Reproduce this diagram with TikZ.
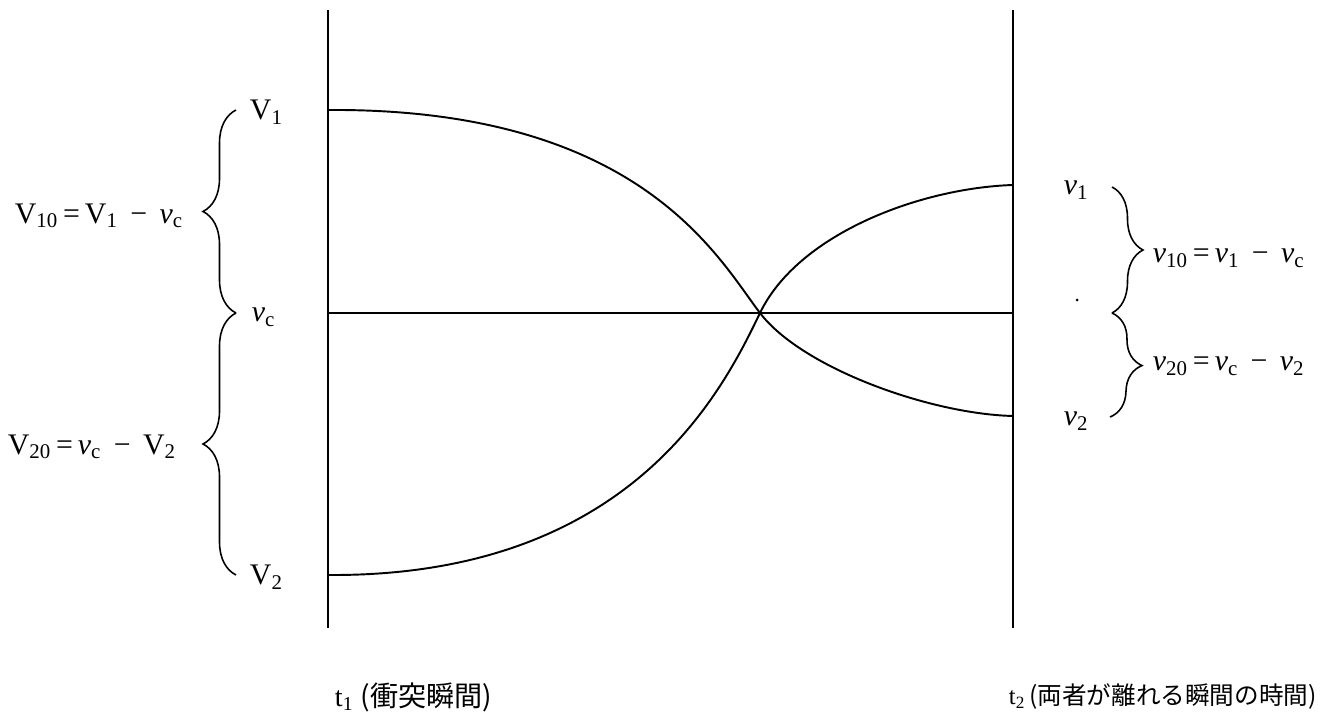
\documentclass[tikz,border=0pt]{standalone}
\usepackage{fontspec}
\setmainfont{Liberation Serif}
\newfontfamily\jpfont{Noto Sans CJK JP}
\usetikzlibrary{decorations.pathreplacing}

\begin{document}
\begin{tikzpicture}
    [x=0.02cm, y=-0.02cm, font=\fontsize{17}{19}\selectfont, line width=1.1pt,
     lbl/.style={inner sep=0pt, anchor=west},
     curlybrace/.style={decorate, decoration={brace, amplitude=#1}, line width=0.9pt},
     curlybrace/.default=0.66cm]
    \useasboundingbox (0,0) rectangle (1343,715);
    \coordinate (t1top) at (328,10);
    \coordinate (t1bot) at (328,628);
    \coordinate (t2top) at (1013,10);
    \coordinate (t2bot) at (1013,628);
    \coordinate (V1) at (328,110);
    \coordinate (V2) at (328,575);
    \coordinate (vcL) at (328,313);
    \coordinate (vcR) at (1013,313);
    \coordinate (v1) at (1013,185);
    \coordinate (v2) at (1013,416);
    \coordinate (cross) at (760,313);

    \draw (t1top) -- (t1bot);
    \draw (t2top) -- (t2bot);
    \draw (vcL) -- (vcR);
    \draw (V1) .. controls (640,108) and (718,258) .. (cross) .. controls (802,368) and (930,414) .. (v2);
    \draw (V2) .. controls (630,577) and (722,392) .. (cross) .. controls (798,234) and (920,188) .. (v1);

    \node[lbl] (V1lbl) at (249,112) {V\textsubscript{1}};
    \node[lbl] (vclbl) at (251,317) {\textit{v}\textsubscript{c}};
    \node[lbl] (V2lbl) at (249,577) {V\textsubscript{2}};
    \coordinate (bL1) at (236,110);
    \coordinate (bLc) at (236,313);
    \coordinate (bL2) at (236,575);
    \draw[curlybrace] (bLc) -- (bL1);
    \draw[curlybrace] (bL2) -- (bLc);
    \node[lbl, anchor=east] (V10) at (184,216) {V\textsubscript{10}\,=\,V\textsubscript{1}\, − \,\textit{v}\textsubscript{c}};
    \node[lbl, anchor=east] (V20) at (177,447) {V\textsubscript{20}\,=\,\textit{v}\textsubscript{c}\, − \,V\textsubscript{2}};

    \node[lbl] (v1lbl) at (1063,190) {\textit{v}\textsubscript{1}};
    \node[lbl] (v2lbl) at (1063,421) {\textit{v}\textsubscript{2}};
    \coordinate (bR1) at (1112,187);
    \coordinate (bRc) at (1112,313);
    \coordinate (bR2) at (1110,417);
    \draw[curlybrace=0.62cm] (bR1) -- (bRc);
    \draw[curlybrace=0.62cm] (bRc) -- (bR2);
    \node[lbl] (v10) at (1152,258) {\textit{v}\textsubscript{10}\,=\,\textit{v}\textsubscript{1}\, − \,\textit{v}\textsubscript{c}};
    \node[lbl] (v20) at (1152,366) {\textit{v}\textsubscript{20}\,=\,\textit{v}\textsubscript{c}\, − \,\textit{v}\textsubscript{2}};
    \fill (1077,300) circle (1.5);

    \node[lbl, font=\fontsize{16}{18}\selectfont] (t1lbl) at (334,697) {t\textsubscript{1}\hspace{4pt}{\jpfont (衝突瞬間)}};
    \node[lbl, font=\fontsize{14}{16}\selectfont] (t2lbl) at (1008,697) {t\textsubscript{2}\,{\jpfont (両者が離れる瞬間の時間)}};
\end{tikzpicture}
\end{document}
